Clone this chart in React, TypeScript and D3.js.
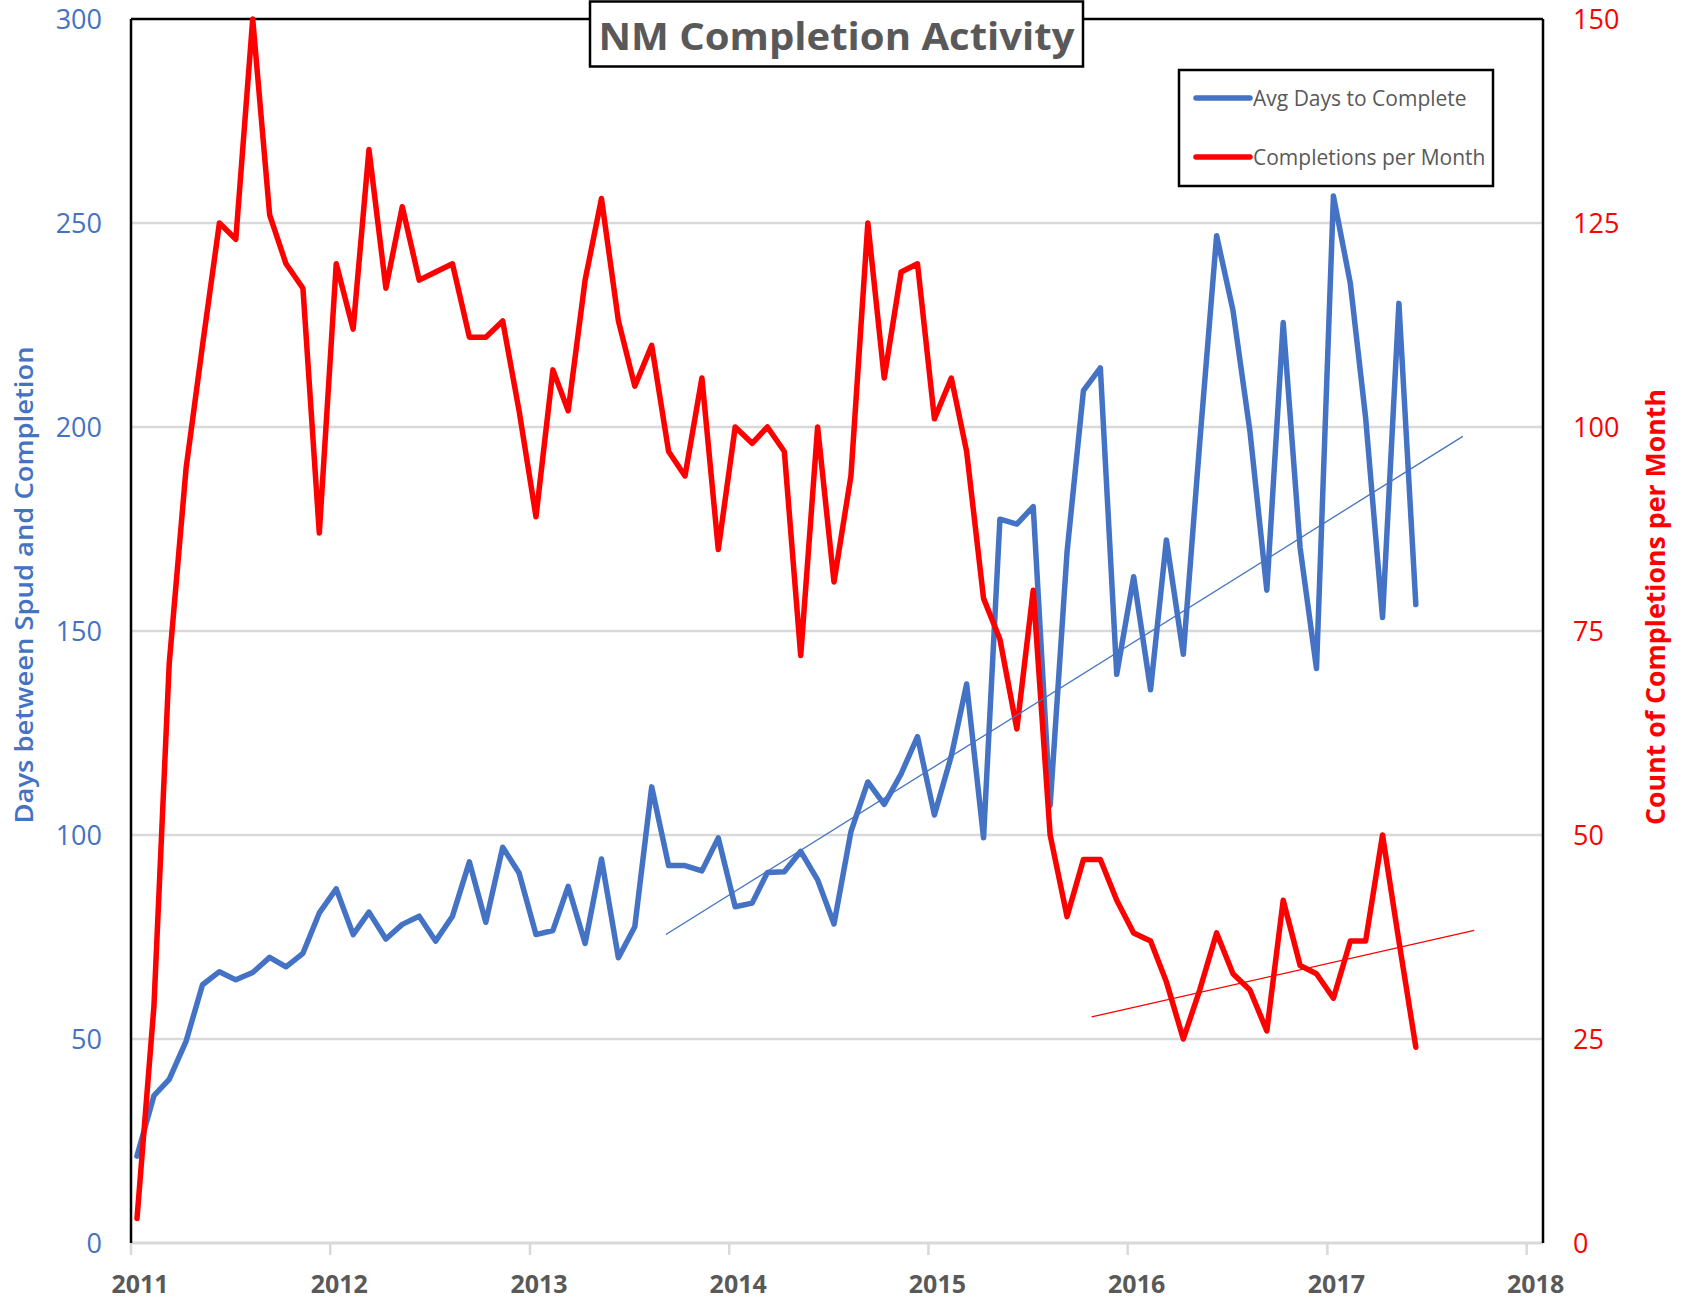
import * as d3 from 'd3'

// monthly values, Jan 2011 .. Jun 2017
const months = d3.range(78).map((i) => new Date(2011, i, 12))

const avgDays = [
  21.3, 36.1, 40.1, 49.5, 63.3, 66.5, 64.5, 66.3, 70, 67.7,
  71, 80.9, 86.8, 75.6, 81.1, 74.5, 78.1, 80.1, 74, 80.1,
  93.4, 78.6, 97, 90.7, 75.6, 76.6, 87.4, 73.4, 94.1, 69.9,
  77.5, 111.8, 92.5, 92.5, 91.2, 99.3, 82.4, 83.3, 90.8, 91,
  96, 89, 78.2, 100.8, 113, 107.5, 115, 124.1, 104.9, 119.4,
  137, 99.3, 177.4, 176.2, 180.5, 107.2, 169.4, 208.9, 214.5, 139.4,
  163.3, 135.6, 172.3, 144.3, 196, 246.9, 228.6, 199, 160, 225.6,
  170.4, 140.8, 256.6, 235.2, 202.3, 153.3, 230.3, 156.5,
]

const completions = [
  3, 29, 71, 95, 110, 125, 123, 150, 126, 120,
  117, 87, 120, 112, 134, 117, 127, 118, 119, 120,
  111, 111, 113, 102, 89, 107, 102, 118, 128, 113,
  105, 110, 97, 94, 106, 85, 100, 98, 100, 97,
  72, 100, 81, 94, 125, 106, 119, 120, 101, 106,
  97, 79, 74, 63, 80, 50, 40, 47, 47, 42,
  38, 37, 32, 25, 31, 38, 33, 31, 26, 42,
  34, 33, 30, 37, 37, 50, 37, 24,
]

// trendlines (start / end)
const daysTrendDates = [new Date(2013, 8, 7), new Date(2017, 8, 6)]
const daysTrend = [75.6, 197.7]
const countTrendDates = [new Date(2015, 9, 27), new Date(2017, 8, 27)]
const countTrend = [27.7, 38.3]

const daysTicks = [0, 50, 100, 150, 200, 250, 300]
const countTicks = [0, 25, 50, 75, 100, 125, 150]
const years = d3.range(2011, 2019)

const BLUE = '#4472c4'
const RED = '#ff0000'
const GRAY_TEXT = '#595959'
const FONT = '"Open Sans", "Noto Sans", sans-serif'

const W = 1687
const H = 1300
const left = 131
const right = 1543
const top = 19
const bottom = 1243

const App = () => {
  const x = d3
    .scaleTime()
    .domain([new Date(2011, 0, 1), new Date(2018, 0, 31)])
    .range([left, right])
  const yL = d3.scaleLinear().domain([0, 300]).range([bottom, top])
  const yR = d3.scaleLinear().domain([0, 150]).range([bottom, top])

  const daysLine = d3
    .line<number>()
    .x((d, i) => x(months[i]))
    .y((d) => yL(d))
  const countLine = d3
    .line<number>()
    .x((d, i) => x(months[i]))
    .y((d) => yR(d))
  const daysTrendLine = d3
    .line<number>()
    .x((d, i) => x(daysTrendDates[i]))
    .y((d) => yL(d))
  const countTrendLine = d3
    .line<number>()
    .x((d, i) => x(countTrendDates[i]))
    .y((d) => yR(d))

  const legend = [
    { label: 'Avg Days to Complete', color: BLUE },
    { label: 'Completions per Month', color: RED },
  ]

  return (
    <svg
      width={W}
      height={H}
      style={{ position: 'absolute', left: 0, top: 0, background: '#fff' }}
      fontFamily={FONT}
    >
      {/* gridlines */}
      {daysTicks
        .filter((t) => t > 0 && t < 300)
        .map((t) => (
          <line key={'g' + t} x1={left} x2={right} y1={yL(t)} y2={yL(t)} stroke='#d9d9d9' strokeWidth={2.5} />
        ))}

      {/* x axis */}
      <line x1={left} x2={right} y1={bottom} y2={bottom} stroke='#d9d9d9' strokeWidth={3} />
      {years.map((yr) => {
        const xp = x(new Date(yr, 0, 1))
        return (
          <g key={yr}>
            <line x1={xp} x2={xp} y1={bottom} y2={bottom + 12} stroke='#d9d9d9' strokeWidth={2.5} />
            <text x={xp + 9} y={bottom + 41} dy='0.36em' textAnchor='middle' fontSize={25} fontWeight={700} fill={GRAY_TEXT}>
              {yr}
            </text>
          </g>
        )
      })}

      {/* frame */}
      <line x1={left} x2={left} y1={top} y2={bottom} stroke='#000' strokeWidth={2.5} />
      <line x1={right} x2={right} y1={top} y2={bottom} stroke='#000' strokeWidth={2.5} />
      <line x1={left} x2={right} y1={top} y2={top} stroke='#000' strokeWidth={2.5} />

      {/* left ticks */}
      {daysTicks.map((t) => (
        <text key={'l' + t} x={102} y={yL(t)} dy='0.36em' textAnchor='end' fontSize={27} fill={BLUE}>
          {t}
        </text>
      ))}
      {/* right ticks */}
      {countTicks.map((t) => (
        <text key={'r' + t} x={1573} y={yR(t)} dy='0.36em' textAnchor='start' fontSize={27} fill={RED}>
          {t}
        </text>
      ))}

      {/* axis titles */}
      <text
        transform='translate(33, 585) rotate(-90)'
        textAnchor='middle'
        fontSize={26}
        fontWeight={600}
        fill={BLUE}
        textLength={477}
        lengthAdjust='spacingAndGlyphs'
      >
        Days between Spud and Completion
      </text>
      <text
        transform='translate(1665, 607) rotate(-90)'
        textAnchor='middle'
        fontSize={27}
        fontWeight={700}
        fill={RED}
        textLength={436}
        lengthAdjust='spacingAndGlyphs'
      >
        Count of Completions per Month
      </text>

      {/* series */}
      <path d={daysLine(avgDays) || ''} fill='none' stroke={BLUE} strokeWidth={5.5} strokeLinejoin='round' strokeLinecap='round' />
      <path d={countLine(completions) || ''} fill='none' stroke={RED} strokeWidth={5.5} strokeLinejoin='round' strokeLinecap='round' />
      <path d={daysTrendLine(daysTrend) || ''} fill='none' stroke={BLUE} strokeWidth={1.3} />
      <path d={countTrendLine(countTrend) || ''} fill='none' stroke={RED} strokeWidth={1.3} />

      {/* title */}
      <rect x={590} y={1.5} width={493} height={65} fill='#fff' stroke='#000' strokeWidth={2.5} />
      <text
        x={836.5}
        y={50}
        textAnchor='middle'
        fontSize={38}
        fontWeight={700}
        fill={GRAY_TEXT}
        textLength={476}
        lengthAdjust='spacingAndGlyphs'
      >
        NM Completion Activity
      </text>

      {/* legend */}
      <rect x={1179} y={70} width={314} height={116} fill='#fff' stroke='#000' strokeWidth={2.5} />
      {legend.map((d, i) => {
        const ly = 98 + i * 59
        return (
          <g key={d.label}>
            <line x1={1196} x2={1250} y1={ly} y2={ly} stroke={d.color} strokeWidth={5.5} strokeLinecap='round' />
            <text x={1253} y={ly} dy='0.36em' fontSize={21} fill={GRAY_TEXT}>
              {d.label}
            </text>
          </g>
        )
      })}
    </svg>
  )
}

export default App
